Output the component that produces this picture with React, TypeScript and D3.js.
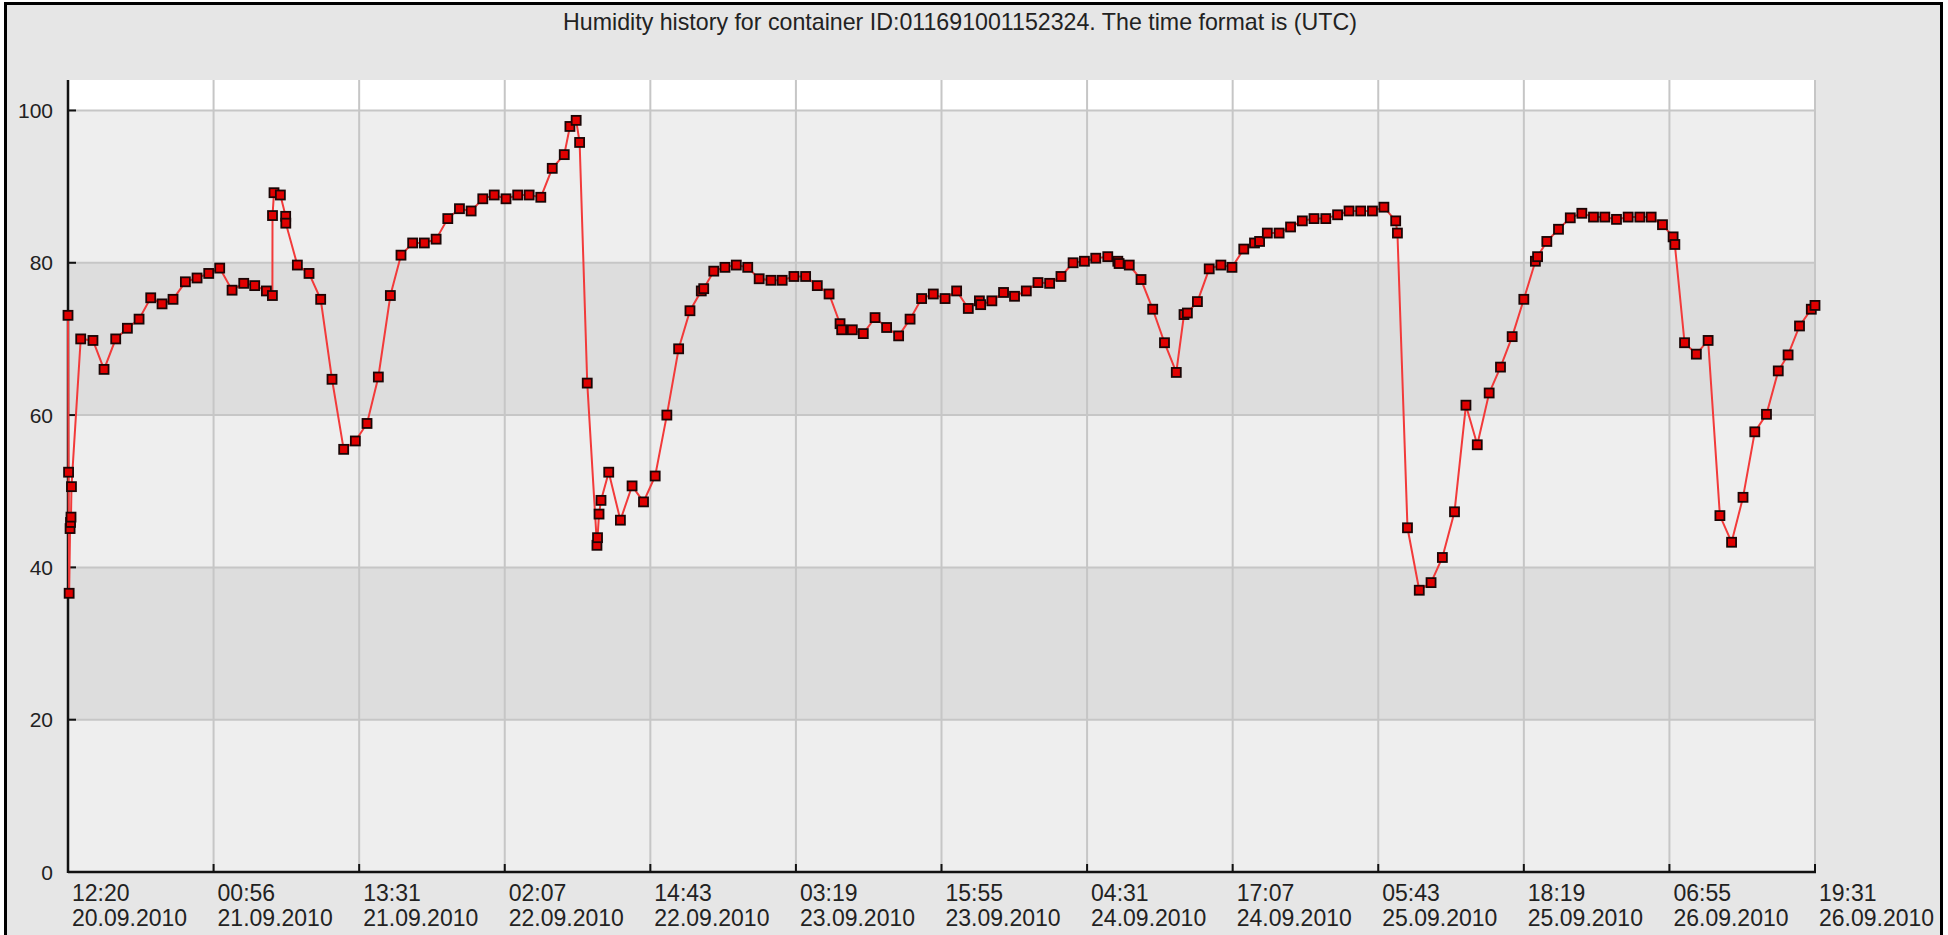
import React from "react";
import * as d3 from "d3";

const TITLE = "Humidity history for container ID:011691001152324. The time format is (UTC)";

// x tick labels (every 12h36m from 20.09.2010 12:20 UTC)
const tickTimes = ["12:20", "00:56", "13:31", "02:07", "14:43", "03:19", "15:55", "04:31", "17:07", "05:43", "18:19", "06:55", "19:31"];
const tickDates = ["20.09.2010", "21.09.2010", "21.09.2010", "22.09.2010", "22.09.2010", "23.09.2010", "23.09.2010", "24.09.2010", "24.09.2010", "25.09.2010", "25.09.2010", "26.09.2010", "26.09.2010"];
const yTicks = [0, 20, 40, 60, 80, 100];
const bands = [
  { from: 0, to: 20, shade: "light" },
  { from: 20, to: 40, shade: "dark" },
  { from: 40, to: 60, shade: "light" },
  { from: 60, to: 80, shade: "dark" },
  { from: 80, to: 100, shade: "light" },
];

// hours since 20.09.2010 12:20 UTC
const hours = [
  0.0, 0.05, 0.1, 0.18, 0.22, 0.26, 0.3, 1.1, 2.16, 3.12, 4.13, 5.14, 6.15, 7.16, 8.14, 9.09, 10.16, 11.17, 12.18, 13.13,
  14.2, 15.21, 16.16, 17.17, 17.69, 17.7, 17.83, 18.38, 18.84, 18.85, 19.85, 20.86, 21.87, 22.85, 23.86, 24.87, 25.88, 26.86, 27.9, 28.82,
  29.83, 30.84, 31.86, 32.87, 33.88, 34.89, 35.9, 36.89, 37.91, 38.92, 39.91, 40.92, 41.91, 42.95, 43.44, 43.98, 44.28, 44.94, 45.78, 45.83,
  45.96, 46.13, 46.8, 47.81, 48.82, 49.81, 50.82, 51.83, 52.85, 53.83, 54.81, 55.02, 55.89, 56.86, 57.84, 58.83, 59.82, 60.84, 61.81, 62.83,
  63.84, 64.85, 65.87, 66.82, 66.96, 67.88, 68.83, 69.85, 70.85, 71.89, 72.88, 73.88, 74.89, 75.91, 76.91, 77.92, 78.88, 78.99, 79.96, 80.97,
  81.92, 82.94, 83.95, 84.96, 85.94, 86.99, 87.97, 88.95, 89.99, 90.86, 90.97, 91.85, 92.87, 93.88, 94.9, 95.92, 96.59, 96.88, 97.75, 98.77,
  99.78, 100.74, 101.76, 102.69, 103.13, 103.8, 104.82, 105.81, 106.83, 107.84, 108.86, 109.88, 110.87, 111.88, 112.9, 113.89, 114.91, 115.06, 115.93, 116.95,
  117.97, 118.95, 120.0, 120.99, 121.97, 123.0, 123.98, 124.99, 126.0, 127.0, 127.19, 127.99, 129.0, 130.02, 131.02, 132.03, 133.01, 134.02, 135.03, 136.04,
  137.02, 138.0, 138.92, 139.07, 139.91, 140.93, 141.95, 142.97, 143.98, 144.97, 145.99, 147.0, 148.02, 148.87, 149.86, 150.88, 151.2,
];
const humidity = [
  73.1, 52.5, 36.6, 45.1, 45.9, 46.6, 50.6, 70.0, 69.8, 66.0, 70.0, 71.4, 72.6, 75.4, 74.6, 75.2, 77.5, 78.0, 78.6, 79.3,
  76.4, 77.3, 77.0, 76.3, 75.7, 86.2, 89.2, 88.9, 86.1, 85.2, 79.7, 78.6, 75.2, 64.7, 55.5, 56.6, 58.9, 65.0, 75.7, 81.0,
  82.6, 82.6, 83.1, 85.8, 87.1, 86.8, 88.4, 88.9, 88.4, 88.9, 88.9, 88.6, 92.4, 94.2, 97.9, 98.7, 95.8, 64.2, 42.9, 43.9,
  47.0, 48.8, 52.5, 46.2, 50.7, 48.6, 52.0, 60.0, 68.7, 73.7, 76.3, 76.6, 78.9, 79.4, 79.7, 79.4, 77.9, 77.7, 77.7, 78.2,
  78.2, 77.0, 75.9, 72.0, 71.2, 71.2, 70.7, 72.8, 71.5, 70.4, 72.6, 75.3, 75.9, 75.3, 76.3, 74.0, 75.0, 74.5, 75.0, 76.1,
  75.6, 76.3, 77.4, 77.3, 78.2, 80.0, 80.2, 80.6, 80.8, 80.2, 79.9, 79.7, 77.8, 73.9, 69.5, 65.6, 73.2, 73.4, 74.9, 79.2,
  79.7, 79.4, 81.8, 82.6, 82.8, 83.9, 83.9, 84.7, 85.5, 85.8, 85.8, 86.3, 86.8, 86.8, 86.8, 87.3, 85.5, 83.9, 45.2, 37.0,
  38.0, 41.3, 47.3, 61.3, 56.1, 62.9, 66.3, 70.3, 75.2, 80.2, 80.8, 82.8, 84.4, 85.9, 86.5, 86.0, 86.0, 85.7, 86.0, 86.0,
  86.0, 85.0, 83.4, 82.4, 69.5, 68.0, 69.8, 46.8, 43.3, 49.2, 57.8, 60.1, 65.8, 67.9, 71.7, 73.9, 74.4,
];

const W = 1948;
const H = 935;
const M = { left: 68, right: 1815, top: 80, bottom: 872 };
const FONT = "'Liberation Sans', Arial, Helvetica, sans-serif";
const TICK_STEP = 12.6;
const X_MAX = 151.2;
const Y_MAX = 104;

export default function App() {
  const x = d3.scaleLinear().domain([0, X_MAX]).range([M.left, M.right]);
  const y = d3.scaleLinear().domain([0, Y_MAX]).range([M.bottom, M.top]);
  const xTickVals = tickTimes.map((_, i) => i * TICK_STEP);
  const pts = hours.map((h, i) => [h, humidity[i]] as [number, number]);
  const line = d3
    .line<[number, number]>()
    .x((d) => x(d[0]))
    .y((d) => y(d[1]));
  const sq = 9;

  return (
    <svg
      width={W}
      height={H}
      style={{ position: "absolute", left: 0, top: 0, display: "block" }}
      fontFamily={FONT}
    >
      <rect x={0} y={0} width={W} height={H} fill="#ffffff" />
      <rect x={5.5} y={3.5} width={1936} height={1000} fill="#e6e6e6" stroke="#000" strokeWidth={3} />
      <text x={960} y={30} textAnchor="middle" fontSize={23.2} fill="#222">
        {TITLE}
      </text>

      {/* plot background */}
      <rect x={M.left} y={M.top} width={M.right - M.left} height={M.bottom - M.top} fill="#ffffff" />
      {bands.map((b, i) => (
        <rect
          key={"b" + i}
          x={M.left}
          y={y(b.to)}
          width={M.right - M.left}
          height={y(b.from) - y(b.to)}
          fill={b.shade === "light" ? "#eeeeee" : "#dddddd"}
        />
      ))}

      {/* grid */}
      {yTicks.slice(1).map((t) => (
        <line key={"gy" + t} x1={M.left} x2={M.right} y1={y(t)} y2={y(t)} stroke="#c6c6c6" strokeWidth={2} />
      ))}
      {xTickVals.slice(1).map((t, i) => (
        <line key={"gx" + i} x1={x(t)} x2={x(t)} y1={M.top} y2={M.bottom} stroke="#c6c6c6" strokeWidth={2} />
      ))}

      {/* axes */}
      <line x1={M.left} x2={M.left} y1={M.top} y2={M.bottom + 1} stroke="#111" strokeWidth={2.5} />
      <line x1={M.left} x2={M.right + 1} y1={M.bottom} y2={M.bottom} stroke="#111" strokeWidth={2.5} />
      {yTicks.map((t) => (
        <g key={"yt" + t}>
          <line x1={M.left} x2={M.left + 8} y1={y(t)} y2={y(t)} stroke="#111" strokeWidth={2} />
          <text x={53} y={y(t)} dy="0.36em" textAnchor="end" fontSize={21} fill="#222">
            {t}
          </text>
        </g>
      ))}
      {xTickVals.map((t, i) => (
        <g key={"xt" + i}>
          <line x1={x(t)} x2={x(t)} y1={M.bottom} y2={M.bottom - 8} stroke="#111" strokeWidth={2} />
          <text x={x(t) + 4} y={901} fontSize={23} fill="#222">
            {tickTimes[i]}
          </text>
          <text x={x(t) + 4} y={926} fontSize={23} fill="#222">
            {tickDates[i]}
          </text>
        </g>
      ))}

      {/* series */}
      <path d={line(pts) || ""} fill="none" stroke="#f23a3a" strokeWidth={2} />
      {pts.map((d, i) => (
        <rect
          key={"p" + i}
          x={x(d[0]) - sq / 2}
          y={y(d[1]) - sq / 2}
          width={sq}
          height={sq}
          fill="#e00000"
          stroke="#1a0505"
          strokeWidth={1.8}
        />
      ))}
    </svg>
  );
}
